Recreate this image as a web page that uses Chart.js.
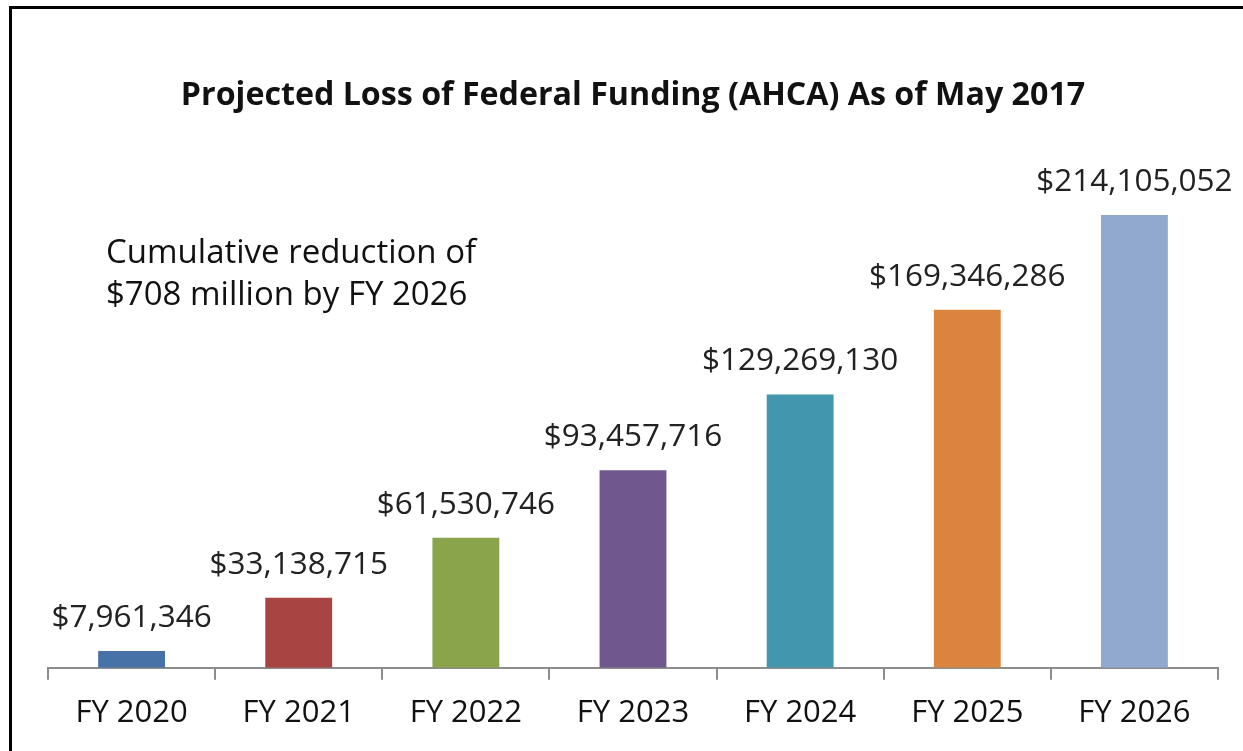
<!DOCTYPE html>
<html>
<head>
<meta charset="utf-8">
<script src="https://cdn.jsdelivr.net/npm/chart.js@4"></script>
<style>
  html, body { margin: 0; padding: 0; background: #fff; }
  #wrap { position: relative; width: 1243px; height: 751px; }
  #frame { position: absolute; left: 9px; top: 6px; right: -10px; bottom: -10px;
           border-left: 3px solid #000; border-top: 3px solid #000; pointer-events: none; }
</style>
</head>
<body>
<div id="wrap">
  <canvas id="myChart" width="1243" height="751"></canvas>
  <div id="frame"></div>
</div>
<script>
// Chart data
const titleText = "Projected Loss of Federal Funding (AHCA) As of May 2017";
const categories = ["FY 2020", "FY 2021", "FY 2022", "FY 2023", "FY 2024", "FY 2025", "FY 2026"];
const lossValues = [7961346, 33138715, 61530746, 93457716, 129269130, 169346286, 214105052];
const barColors = ["#4672A8", "#A84441", "#8AA44C", "#70588E", "#4296AE", "#DB843D", "#91A8CF"];
const noteLines = ["Cumulative reduction of", "$708 million by FY 2026"];

const FONT = "'Open Sans', sans-serif";

function formatDollars(v) {
  return "$" + v.toLocaleString("en-US");
}

// Draws the value labels above each bar
const valueLabels = {
  id: 'valueLabels',
  afterDatasetsDraw(chart) {
    const c = chart.ctx;
    const meta = chart.getDatasetMeta(0);
    c.save();
    c.font = "31.5px " + FONT;
    c.fillStyle = "#222";
    c.textAlign = "center";
    c.textBaseline = "alphabetic";
    meta.data.forEach((bar, i) => {
      c.fillText(formatDollars(lossValues[i]), bar.x, bar.y - 24);
    });
    c.restore();
  }
};

// Draws the text note in the upper left of the plot
const noteText = {
  id: 'noteText',
  afterDraw(chart) {
    const c = chart.ctx;
    c.save();
    c.font = "33px " + FONT;
    c.fillStyle = "#111";
    c.textAlign = "left";
    c.textBaseline = "alphabetic";
    noteLines.forEach((line, i) => {
      c.fillText(line, 106, 263 + i * 42);
    });
    c.restore();
  }
};

const ctx = document.getElementById('myChart');
const myChart = new Chart(ctx, {
  type: 'bar',
  data: {
    labels: categories,
    datasets: [{
      data: lossValues,
      backgroundColor: barColors,
      borderWidth: 0,
      barPercentage: 0.4,
      categoryPercentage: 1.0
    }]
  },
  options: {
    responsive: false,
    animation: false,
    layout: { padding: { left: 48, right: 25, top: 0, bottom: 5 } },
    plugins: {
      legend: { display: false },
      tooltip: { enabled: false },
      title: {
        display: true,
        text: titleText,
        color: "#111",
        font: { family: FONT, size: 32.2, weight: 'bold' },
        padding: { top: 77, bottom: 23.4 }
      }
    },
    scales: {
      x: {
        grid: {
          offset: true,
          drawOnChartArea: false,
          drawTicks: true,
          tickLength: 12,
          color: "#8c8c8c",
          lineWidth: 2
        },
        border: { color: "#8c8c8c", width: 2 },
        ticks: {
          color: "#111",
          font: { family: FONT, size: 31 },
          padding: 14.5
        }
      },
      y: {
        display: false,
        min: 0,
        max: 250000000
      }
    }
  },
  plugins: [valueLabels, noteText]
});
</script>
</body>
</html>
